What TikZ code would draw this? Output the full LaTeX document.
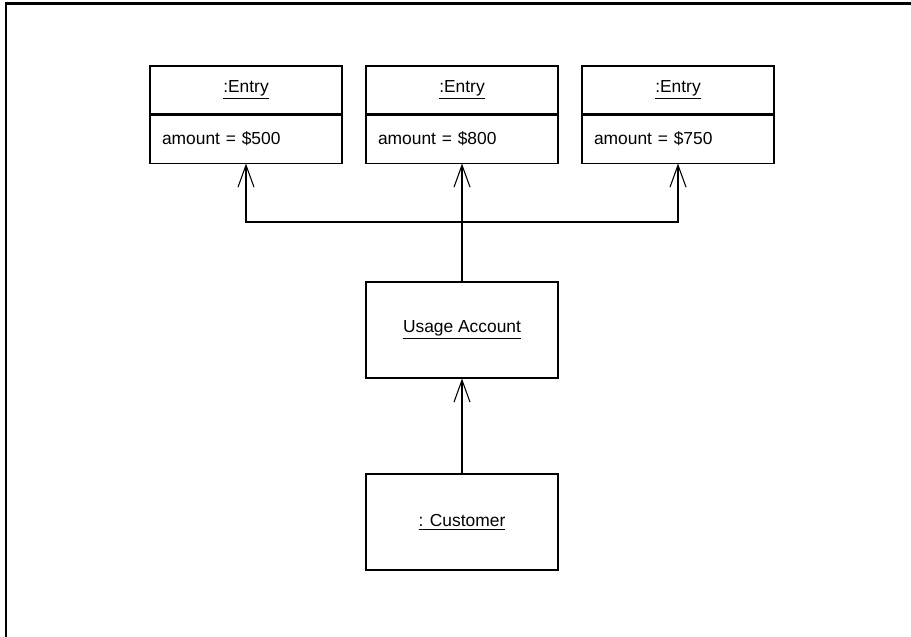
\documentclass[tikz,border=0pt]{standalone}
\usepackage{fontspec}
\setmainfont{Liberation Sans}
\usepackage{tikz}
\usetikzlibrary{arrows.meta,positioning,calc}

\begin{document}
\begin{tikzpicture}[
  objbox/.style={draw=black, line width=0.6pt, minimum width=3.84cm, minimum height=1.92cm, align=center, inner sep=0pt, font=\fontsize{9.9}{11.8}\selectfont},
  entryhead/.style={draw=black, line width=0.6pt, minimum width=3.84cm, minimum height=0.96cm, align=center, inner sep=0pt, font=\fontsize{9.9}{11.8}\selectfont},
  entryattr/.style={draw=black, line width=0.6pt, text width=3.36cm, inner xsep=0.24cm, inner ysep=0pt, minimum height=0.96cm, align=left, font=\fontsize{9.9}{11.8}\selectfont},
  assoc/.style={-{Straight Barb[length=0.44cm, width=0.32cm]}, line width=0.6pt}
]
  \useasboundingbox (0,0) rectangle (18.22,12.72);
  \clip (0,0) rectangle (18.22,12.72);
  % Frame
  \draw[line width=1.6pt] (0.12,-1) rectangle (19,12.65);
  % Entries
  \node[entryhead] (e1h) at (4.92,10.92) {\underline{:Entry}};
  \node[entryattr, below=0pt of e1h] (e1a) {amount = \$500};
  \node[entryhead] (e2h) at (9.24,10.92) {\underline{:Entry}};
  \node[entryattr, below=0pt of e2h] (e2a) {amount = \$800};
  \node[entryhead] (e3h) at (13.56,10.92) {\underline{:Entry}};
  \node[entryattr, below=0pt of e3h] (e3a) {amount = \$750};
  % Account and customer
  \node[objbox] (usage) at (9.24,6.12) {\underline{Usage Account}};
  \node[objbox] (cust) at (9.24,2.28) {\underline{: Customer}};
  % Links
  \coordinate (hub) at (9.24,8.28);
  \draw[assoc] (usage.north) -- (e2a.south);
  \draw[assoc] (hub) -| (e1a.south);
  \draw[assoc] (hub) -| (e3a.south);
  \draw[assoc] (cust.north) -- (usage.south);
\end{tikzpicture}
\end{document}
